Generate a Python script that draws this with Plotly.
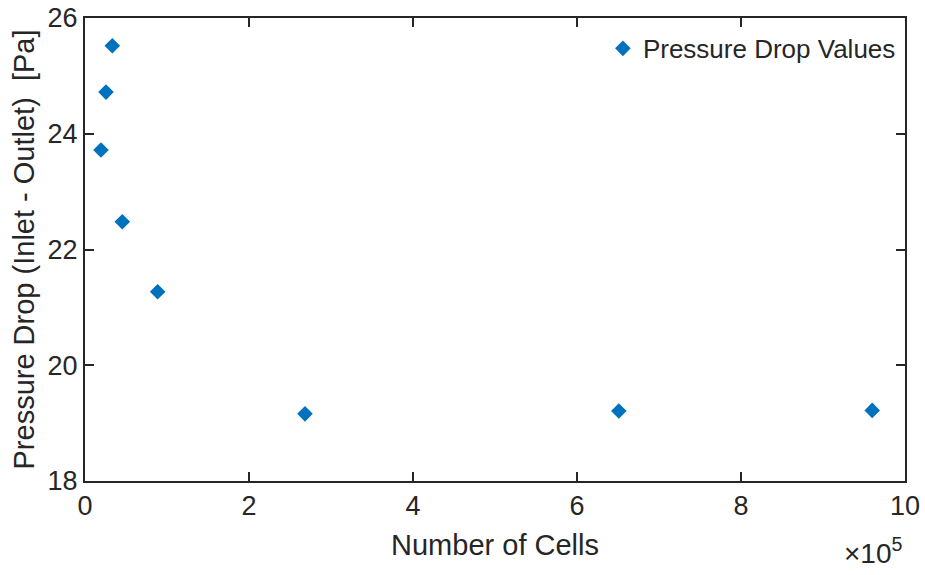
import plotly.graph_objects as go

cells_e5 = [0.195, 0.256, 0.333, 0.455, 0.886, 2.683, 6.51, 9.60]
pressure_drop = [23.72, 24.72, 25.52, 22.48, 21.27, 19.16, 19.21, 19.22]
x_ticks = [0, 2, 4, 6, 8, 10]
y_ticks = [18, 20, 22, 24, 26]

FONT = "Liberation Sans, Arial, sans-serif"
AX = "#262626"
FS = 27
FT = 29

fig = go.Figure()
fig.add_trace(go.Scatter(
    x=cells_e5, y=pressure_drop, mode="markers",
    name="Pressure Drop Values",
    marker=dict(symbol="diamond", size=12, color="#0072BD"),
))

axis_common = dict(
    showline=True, linecolor=AX, linewidth=2, mirror="ticks",
    ticks="inside", ticklen=9, tickwidth=2, tickcolor=AX,
    showgrid=False, zeroline=False, automargin=False,
    tickfont=dict(family=FONT, size=FS, color=AX),
)

fig.update_layout(
    width=925, height=575,
    margin=dict(l=85, r=20, t=18, b=94),
    paper_bgcolor="white", plot_bgcolor="white",
    font=dict(family=FONT, size=FS, color=AX),
    xaxis=dict(range=[0, 10], tickvals=x_ticks, **axis_common,
               title=dict(text="Number of Cells", font=dict(family=FONT, size=FT, color=AX), standoff=14)),
    yaxis=dict(range=[18, 26], tickvals=y_ticks, **axis_common,
               title=dict(text="Pressure Drop (Inlet - Outlet)  [Pa]", font=dict(family=FONT, size=FT, color=AX), standoff=4)),
    legend=dict(x=0.995, y=0.985, xanchor="right", yanchor="top",
                bgcolor="rgba(0,0,0,0)", font=dict(family=FONT, size=26, color=AX),
                itemwidth=30, borderwidth=0),
    showlegend=True,
)
fig.add_annotation(x=1, y=-0.195, xref="paper", yref="paper", xanchor="right", yanchor="bottom",
                   text="×10<sup>5</sup>", showarrow=False,
                   font=dict(family=FONT, size=28, color=AX))

fig.write_html("out.html")
